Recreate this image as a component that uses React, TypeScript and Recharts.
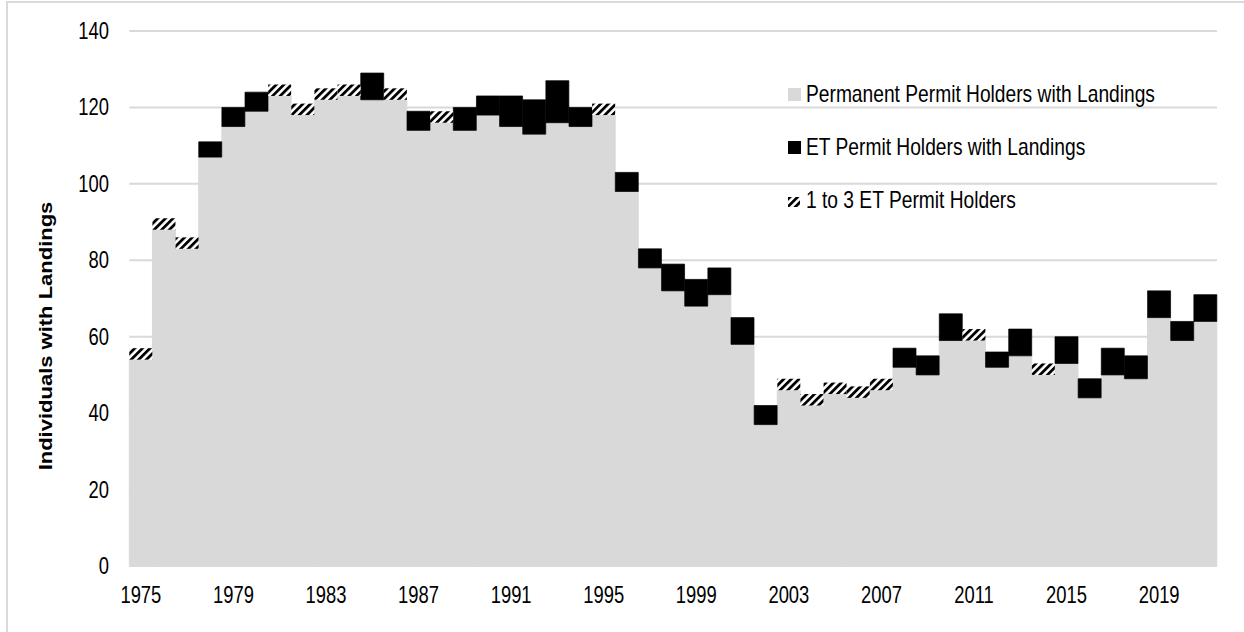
import { Bar, BarChart, CartesianGrid, Legend, XAxis, YAxis } from "recharts";

const years = [
  "1975", "1976", "1977", "1978", "1979", "1980", "1981", "1982", "1983", "1984",
  "1985", "1986", "1987", "1988", "1989", "1990", "1991", "1992", "1993", "1994",
  "1995", "1996", "1997", "1998", "1999", "2000", "2001", "2002", "2003", "2004",
  "2005", "2006", "2007", "2008", "2009", "2010", "2011", "2012", "2013", "2014",
  "2015", "2016", "2017", "2018", "2019", "2020", "2021",
];

const permanent = [
  54, 88, 83, 107, 115, 119, 123, 118, 122, 123,
  122, 122, 114, 116, 114, 118, 115, 113, 116, 115,
  118, 98, 78, 72, 68, 71, 58, 37, 46, 42,
  45, 44, 46, 52, 50, 59, 59, 52, 55, 50,
  53, 44, 50, 49, 65, 59, 64,
];

const etHolders = [
  0, 0, 0, 4, 5, 5, 0, 0, 0, 0,
  7, 0, 5, 0, 6, 5, 8, 9, 11, 5,
  0, 5, 5, 7, 7, 7, 7, 5, 0, 0,
  0, 0, 0, 5, 5, 7, 0, 4, 7, 0,
  7, 5, 7, 6, 7, 5, 7,
];

const oneToThree = [
  3, 3, 3, 0, 0, 0, 3, 3, 3, 3,
  0, 3, 0, 3, 0, 0, 0, 0, 0, 0,
  3, 0, 0, 0, 0, 0, 0, 0, 3, 3,
  3, 3, 3, 0, 0, 0, 3, 0, 0, 3,
  0, 0, 0, 0, 0, 0, 0,
];

const yTicks = [0, 20, 40, 60, 80, 100, 120, 140];

const data = years.map((year, i) => ({
  year,
  permanent: permanent[i],
  et: etHolders[i],
  small: oneToThree[i],
}));

const FONT = "'Liberation Sans', Arial, sans-serif";
const GRID = "#d9d9d9";

function XTick({ x, payload }: any) {
  return (
    <text
      x={0}
      y={0}
      transform={`translate(${x},603) scale(0.8,1)`}
      textAnchor="middle"
      fontSize={23}
      fontFamily={FONT}
      fill="#000"
    >
      {payload.value}
    </text>
  );
}

function YTick({ y, payload }: any) {
  return (
    <text
      x={0}
      y={0}
      transform={`translate(109,${y + 8}) scale(0.8,1)`}
      textAnchor="end"
      fontSize={23}
      fontFamily={FONT}
      fill="#000"
    >
      {payload.value}
    </text>
  );
}

function HatchSwatch() {
  return (
    <svg width={12} height={10} style={{ display: "block" }}>
      <defs>
        <pattern id="hatchLegend" width={5.4} height={5.4} patternUnits="userSpaceOnUse" patternTransform="rotate(45)">
          <rect width={5.4} height={5.4} fill="#fff" />
          <rect width={2.8} height={5.4} fill="#000" />
        </pattern>
      </defs>
      <rect width={12} height={10} fill="url(#hatchLegend)" />
    </svg>
  );
}

const legendItems = [
  { label: "Permanent Permit Holders with Landings", swatch: <div style={{ width: 13, height: 13, background: GRID }} />, top: 8 },
  { label: "ET Permit Holders with Landings", swatch: <div style={{ width: 13, height: 13, background: "#000" }} />, top: 8 },
  { label: "1 to 3 ET Permit Holders", swatch: <HatchSwatch />, top: 11 },
];

function LegendContent() {
  return (
    <div style={{ fontFamily: FONT, fontSize: 24, color: "#000" }}>
      {legendItems.map((item) => (
        <div key={item.label} style={{ position: "relative", height: 53, lineHeight: "27px", whiteSpace: "nowrap" }}>
          <div style={{ position: "absolute", left: 0, top: item.top }}>{item.swatch}</div>
          <div style={{ position: "absolute", left: 18, top: 0, transform: "scaleX(0.8)", transformOrigin: "0 0" }}>
            {item.label}
          </div>
        </div>
      ))}
    </div>
  );
}

export default function App() {
  return (
    <div style={{ position: "absolute", left: 0, top: 0, width: 1244, height: 632, background: "#fff", overflow: "hidden" }}>
      <div style={{ position: "absolute", left: 6, top: 1, width: 1238, height: 2, background: GRID }} />
      <div style={{ position: "absolute", left: 6, top: 1, width: 2, height: 631, background: GRID }} />
      <BarChart
        width={1244}
        height={632}
        data={data}
        margin={{ top: 31, right: 27, left: 69.3, bottom: 26 }}
        barCategoryGap={0}
        barGap={0}
      >
        <defs>
          <pattern id="hatch" width={5.4} height={5.4} patternUnits="userSpaceOnUse" patternTransform="rotate(45)">
            <rect width={5.4} height={5.4} fill="#fff" />
            <rect width={2.8} height={5.4} fill="#000" />
          </pattern>
        </defs>
        <CartesianGrid horizontal vertical={false} stroke={GRID} strokeWidth={2} />
        <XAxis dataKey="year" interval={3} height={40} tickLine={false} axisLine={false} tick={<XTick />} />
        <YAxis
          width={60}
          domain={[0, 140]}
          ticks={yTicks}
          tickLine={false}
          axisLine={false}
          tick={<YTick />}
        />
        <Legend
          layout="vertical"
          align="center"
          verticalAlign="middle"
          content={<LegendContent />}
          wrapperStyle={{ top: 80, left: 788, width: 440 }}
        />
        <Bar dataKey="permanent" stackId="a" fill={GRID} stroke={GRID} strokeWidth={1} isAnimationActive={false} />
        <Bar dataKey="et" stackId="a" fill="#000" stroke="#000" strokeWidth={0.7} isAnimationActive={false} />
        <Bar dataKey="small" stackId="a" fill="url(#hatch)" isAnimationActive={false} />
      </BarChart>
      <svg
        width={120}
        height={632}
        style={{ position: "absolute", left: 0, top: 0, pointerEvents: "none" }}
      >
        <text
          x={0}
          y={0}
          transform="translate(52,336) rotate(-90) scale(1,0.8)"
          textAnchor="middle"
          fontSize={22}
          fontWeight="bold"
          fontFamily={FONT}
          fill="#000"
        >
          Individuals with Landings
        </text>
      </svg>
    </div>
  );
}
